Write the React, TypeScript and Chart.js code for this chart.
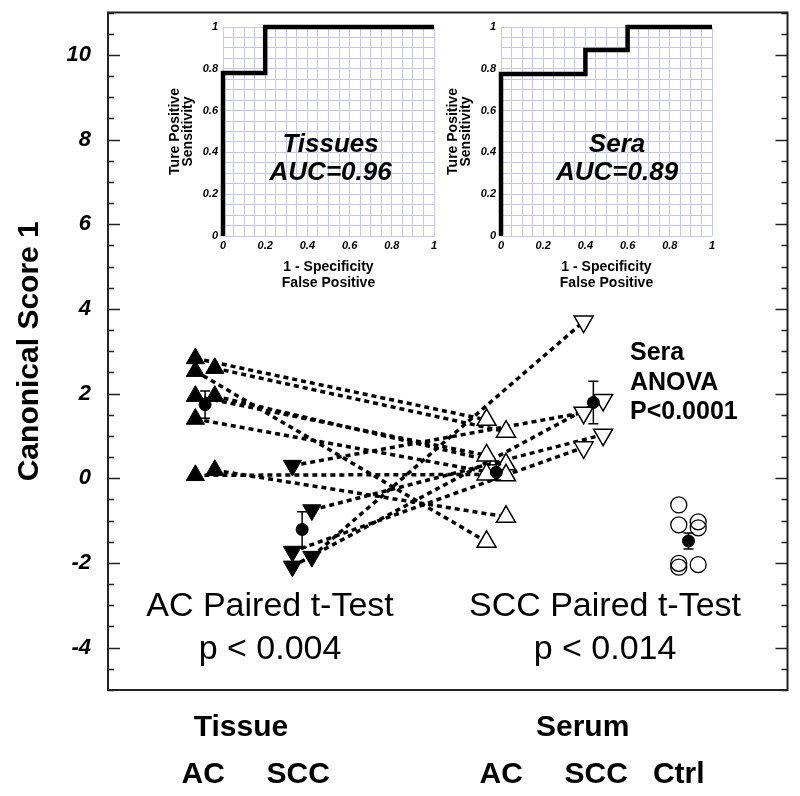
import React, { useEffect, useRef } from "react";
import { Chart, registerables } from "chart.js";
Chart.register(...registerables);

const FONT = "'Liberation Sans', Arial, Helvetica, sans-serif";

// ---------- main chart data ----------
const Y_TICK_LABELS = [-4, -2, 0, 2, 4, 6, 8, 10];

// Tissue AC (filled up triangles), paired in order with Serum AC
const TISSUE_AC_X = [0.9, 0.9, 1.1, 0.9, 1.1, 0.9, 0.9, 1.1];
const TISSUE_AC_Y = [2.83, 2.53, 2.6, 1.94, 1.94, 1.4, 0.07, 0.19];
const SERUM_AC_X = [3.9, 3.9, 4.1, 3.9, 4.1, 4.1, 3.9, 4.1];
const SERUM_AC_Y = [1.38, -1.5, 1.1, 0.54, 0.33, 0.07, 0.09, -0.91];

// Tissue SCC (filled down triangles), paired in order with Serum SCC
const TISSUE_SCC_X = [1.9, 2.1, 1.9, 1.9, 2.1];
const TISSUE_SCC_Y = [0.3, -0.75, -1.73, -2.08, -1.85];
const SERUM_SCC_X = [4.9, 5.1, 4.9, 5.1, 4.9];
const SERUM_SCC_Y = [1.55, 1.03, 0.73, 1.85, 3.7];

// Controls (open circles)
const CTRL_X = [5.88, 5.88, 6.08, 6.08, 5.88, 5.88, 6.08];
const CTRL_Y = [-0.63, -1.1, -1.03, -1.17, -2.01, -2.1, -2.04];

// Group means with error bars
const MEAN_X = [1, 2, 4, 5, 5.98];
const MEAN_Y = [1.74, -1.21, 0.14, 1.79, -1.48];
const MEAN_ERR = [0.32, 0.42, 0.18, 0.5, 0.19];

const GROUP_LABELS = ["Tissue", "Serum"];
const CATEGORY_LABELS = ["AC", "SCC", "AC", "SCC", "Ctrl"];

// ---------- ROC insets ----------
const ROC_GRID = [0, 0.05, 0.1, 0.15, 0.2, 0.25, 0.3, 0.35, 0.4, 0.45, 0.5, 0.55, 0.6, 0.65, 0.7, 0.75, 0.8, 0.85, 0.9, 0.95, 1];
const ROC_TISSUE_FPR = [0, 0, 0.2, 0.2, 1];
const ROC_TISSUE_TPR = [0, 0.78, 0.78, 1, 1];
const ROC_SERA_FPR = [0, 0, 0.4, 0.4, 0.6, 0.6, 1];
const ROC_SERA_TPR = [0, 0.775, 0.775, 0.89, 0.89, 1, 1];

const GRID_COLOR = "#c6c6ec";

function pairLine(x1: number, y1: number, x2: number, y2: number) {
  return {
    data: [{ x: x1, y: y1 }, { x: x2, y: y2 }],
    showLine: true,
    borderColor: "#000",
    borderWidth: 3.5,
    borderDash: [5, 4],
    pointRadius: 0,
    fill: false,
  };
}

function MainChart() {
  const ref = useRef<HTMLCanvasElement>(null);
  useEffect(() => {
    if (!ref.current) return;
    const pairs: any[] = [];
    TISSUE_AC_X.forEach((x, i) => pairs.push(pairLine(x, TISSUE_AC_Y[i], SERUM_AC_X[i], SERUM_AC_Y[i])));
    TISSUE_SCC_X.forEach((x, i) => pairs.push(pairLine(x, TISSUE_SCC_Y[i], SERUM_SCC_X[i], SERUM_SCC_Y[i])));

    const pts = (xs: number[], ys: number[]) => xs.map((x, i) => ({ x, y: ys[i] }));

    const datasets: any[] = [
      { data: pts(MEAN_X, MEAN_Y), pointStyle: "circle", pointRadius: 6, backgroundColor: "#000", borderColor: "#000", borderWidth: 1 },
      { data: pts(TISSUE_AC_X, TISSUE_AC_Y), pointStyle: "triangle", pointRadius: 10.5, backgroundColor: "#000", borderColor: "#000", borderWidth: 1 },
      { data: pts(TISSUE_SCC_X, TISSUE_SCC_Y), pointStyle: "triangle", pointRotation: 180, pointRadius: 10.5, backgroundColor: "#000", borderColor: "#000", borderWidth: 1 },
      { data: pts(SERUM_AC_X, SERUM_AC_Y), pointStyle: "triangle", pointRadius: 11, backgroundColor: "#fff", borderColor: "#000", borderWidth: 1.5 },
      { data: pts(SERUM_SCC_X, SERUM_SCC_Y), pointStyle: "triangle", pointRotation: 180, pointRadius: 11, backgroundColor: "#fff", borderColor: "#000", borderWidth: 1.5 },
      { data: pts(CTRL_X, CTRL_Y), pointStyle: "circle", pointRadius: 8, backgroundColor: "rgba(0,0,0,0)", borderColor: "#000", borderWidth: 1.3 },
      ...pairs,
    ];

    const decor = {
      id: "decor",
      afterDatasetsDraw(chart: any) {
        const { ctx, chartArea: a, scales } = chart;
        const xs = scales.x, ys = scales.y;
        ctx.save();
        ctx.strokeStyle = "#000";
        ctx.lineWidth = 1.5;
        MEAN_X.forEach((mx, i) => {
          const px = xs.getPixelForValue(mx);
          const t = ys.getPixelForValue(MEAN_Y[i] + MEAN_ERR[i]);
          const b = ys.getPixelForValue(MEAN_Y[i] - MEAN_ERR[i]);
          ctx.beginPath();
          ctx.moveTo(px, t); ctx.lineTo(px, b);
          ctx.moveTo(px - 5, t); ctx.lineTo(px + 5, t);
          ctx.moveTo(px - 5, b); ctx.lineTo(px + 5, b);
          ctx.stroke();
        });
        // frame
        ctx.strokeStyle = "#222";
        ctx.lineWidth = 2;
        ctx.strokeRect(a.left, a.top, a.right - a.left, a.bottom - a.top);
        // inward ticks every 0.5
        ctx.lineWidth = 1.5;
        for (let k = 0; k <= 32; k++) {
          const v = ys.min + k * 0.5;
          const py = Math.round(ys.getPixelForValue(v)) + 0.5;
          const len = Math.abs(v % 2) < 1e-9 ? 12 : 6;
          ctx.beginPath();
          ctx.moveTo(a.left, py); ctx.lineTo(a.left + len, py);
          ctx.moveTo(a.right, py); ctx.lineTo(a.right - len, py);
          ctx.stroke();
        }
        ctx.restore();
      },
      afterDraw(chart: any) {
        const { ctx, scales } = chart;
        const xs = scales.x;
        ctx.save();
        ctx.fillStyle = "#000";
        ctx.textAlign = "center";
        ctx.textBaseline = "middle";
        ctx.font = `34px ${FONT}`;
        ctx.fillText("AC Paired t-Test", 270, 607);
        ctx.fillText("p < 0.004", 270, 650);
        ctx.fillText("SCC Paired t-Test", 605, 607);
        ctx.fillText("p < 0.014", 605, 650);
        ctx.textAlign = "left";
        ctx.font = `bold 25px ${FONT}`;
        ctx.fillText("Sera", 630, 353);
        ctx.fillText("ANOVA", 630, 383);
        ctx.fillText("P<0.0001", 630, 412);
        ctx.textAlign = "center";
        ctx.font = `bold 30px ${FONT}`;
        ctx.fillText(GROUP_LABELS[0], xs.getPixelForValue(1.37), 728);
        ctx.fillText(GROUP_LABELS[1], xs.getPixelForValue(4.89), 728);
        const catX = [0.98, 1.96, 4.05, 5.03, 5.88];
        CATEGORY_LABELS.forEach((t, i) => ctx.fillText(t, xs.getPixelForValue(catX[i]), 775));
        ctx.restore();
      },
    };

    const chart = new Chart(ref.current, {
      type: "scatter",
      data: { datasets },
      options: {
        responsive: false,
        animation: false,
        events: [],
        layout: { padding: { left: 8, right: 7, top: 7, bottom: 106 } },
        plugins: { legend: { display: false }, tooltip: { enabled: false } },
        scales: {
          x: { type: "linear", min: 0, max: 7, display: false },
          y: {
            type: "linear",
            min: -5,
            max: 11,
            position: "left",
            afterBuildTicks: (s: any) => { s.ticks = Y_TICK_LABELS.map((v) => ({ value: v })); },
            afterFit: (s: any) => { s.width = 100; s.paddingTop = 0; s.paddingBottom = 0; },
            grid: { display: false, drawTicks: false },
            border: { display: false },
            ticks: {
              padding: 17,
              color: "#000",
              font: { family: FONT, size: 22, weight: "bold", style: "italic" },
              callback: (v: any) => String(v),
            },
            title: {
              display: true,
              text: "Canonical Score 1",
              color: "#000",
              font: { family: FONT, size: 30, weight: "bold", lineHeight: 1.2 },
              padding: { top: 4, bottom: 0 },
            },
          },
        },
      } as any,
      plugins: [decor],
    });
    return () => chart.destroy();
  }, []);
  return <canvas ref={ref} width={800} height={796} style={{ position: "absolute", left: 0, top: 0 }} />;
}

function RocChart(props: { left: number; fpr: number[]; tpr: number[]; name: string; auc: string; tx: number }) {
  const ref = useRef<HTMLCanvasElement>(null);
  useEffect(() => {
    if (!ref.current) return;
    const label = {
      id: "rocLabel",
      afterDatasetsDraw(chart: any) {
        const { ctx, scales } = chart;
        ctx.save();
        ctx.fillStyle = "#000";
        ctx.textAlign = "center";
        ctx.textBaseline = "middle";
        ctx.font = `italic bold 26px ${FONT}`;
        ctx.fillText(props.name, scales.x.getPixelForValue(props.tx), scales.y.getPixelForValue(0.435));
        ctx.fillText(props.auc, scales.x.getPixelForValue(props.tx), scales.y.getPixelForValue(0.3));
        ctx.restore();
      },
    };
    const tickFont = { family: FONT, size: 11, weight: "bold", style: "italic" };
    const cb = (v: any) => {
      const r = Math.round(Number(v) * 100);
      return r % 20 === 0 ? String(r / 100) : "";
    };
    const chart = new Chart(ref.current, {
      type: "scatter",
      data: {
        datasets: [
          {
            data: props.fpr.map((x, i) => ({ x, y: props.tpr[i] })),
            showLine: true,
            borderColor: "#000",
            borderWidth: 4.5,
            pointRadius: 0,
            clip: false,
            borderJoinStyle: "miter",
          },
        ],
      },
      options: {
        responsive: false,
        animation: false,
        events: [],
        layout: { padding: { left: 10, right: 16, top: 27, bottom: 9 } },
        plugins: { legend: { display: false }, tooltip: { enabled: false } },
        scales: {
          x: {
            type: "linear",
            min: 0,
            max: 1,
            afterBuildTicks: (s: any) => { s.ticks = ROC_GRID.map((v) => ({ value: v })); },
            afterFit: (s: any) => { s.height = 55; s.paddingLeft = 0; s.paddingRight = 0; },
            grid: { color: GRID_COLOR, lineWidth: 1, drawTicks: false },
            border: { display: false },
            ticks: { autoSkip: false, maxRotation: 0, padding: 3, color: "#000", font: tickFont, callback: cb },
            title: {
              display: true,
              text: ["1 - Specificity", "False Positive"],
              color: "#000",
              font: { family: FONT, size: 14, weight: "bold", lineHeight: 1.15 },
              padding: 0,
            },
          },
          y: {
            type: "linear",
            min: 0,
            max: 1,
            afterBuildTicks: (s: any) => { s.ticks = ROC_GRID.map((v) => ({ value: v })); },
            afterFit: (s: any) => { s.width = 63; s.paddingTop = 0; s.paddingBottom = 0; },
            grid: { color: GRID_COLOR, lineWidth: 1, drawTicks: false },
            border: { display: false },
            ticks: { autoSkip: false, padding: 5, color: "#000", font: tickFont, callback: cb },
            title: {
              display: true,
              text: ["Ture Positive", "Sensitivity"],
              color: "#000",
              font: { family: FONT, size: 14, weight: "bold", lineHeight: 0.95 },
              padding: { top: 8, bottom: 0 },
            },
          },
        },
      } as any,
      plugins: [label],
    });
    return () => chart.destroy();
  }, []);
  return <canvas ref={ref} width={300} height={300} style={{ position: "absolute", left: props.left, top: 0 }} />;
}

export default function App() {
  return (
    <div style={{ position: "absolute", left: 0, top: 0, width: 800, height: 796, background: "#fff" }}>
      <MainChart />
      <RocChart left={150} fpr={ROC_TISSUE_FPR} tpr={ROC_TISSUE_TPR} name="Tissues" auc="AUC=0.96" tx={0.51} />
      <RocChart left={428} fpr={ROC_SERA_FPR} tpr={ROC_SERA_TPR} name="Sera" auc="AUC=0.89" tx={0.55} />
    </div>
  );
}
